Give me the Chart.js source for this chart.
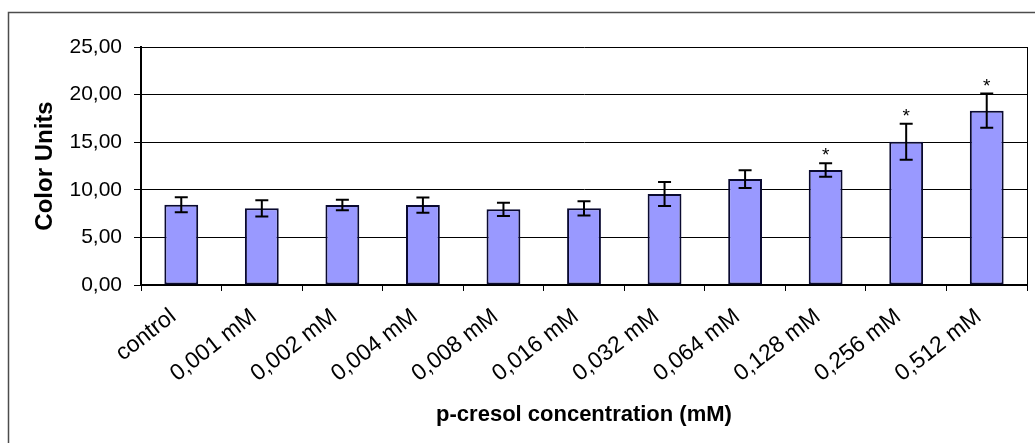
<!DOCTYPE html>
<html>
<head>
<meta charset="utf-8">
<script src="https://cdn.jsdelivr.net/npm/chart.js@4/dist/chart.umd.min.js"></script>
<style>
  html, body { margin: 0; padding: 0; background: #ffffff; overflow: hidden; }
  #wrap { position: relative; width: 1035px; height: 443px; }
</style>
</head>
<body>
<div id="wrap"><canvas id="chart"></canvas></div>
<script>
// p-cresol dose response: mean colour units with standard deviation
const categories = ['control', '0,001 mM', '0,002 mM', '0,004 mM', '0,008 mM', '0,016 mM',
                    '0,032 mM', '0,064 mM', '0,128 mM', '0,256 mM', '0,512 mM'];
const means  = [8.43, 8.05, 8.40, 8.40, 7.95, 8.05, 9.56, 11.13, 12.08, 15.05, 18.31];
const errors = [0.78, 0.85, 0.55, 0.80, 0.70, 0.75, 1.25, 0.93, 0.70, 1.90, 1.80];
const significance = ['', '', '', '', '', '', '', '', '*', '*', '*'];
const yTicks = [0, 5, 10, 15, 20, 25];

const FONT = "'Liberation Sans', Arial, sans-serif";

// outer chart frame and the plot-area right edge
const framePlugin = {
  id: 'frame',
  beforeDraw(chart) {
    const ctx = chart.ctx;
    ctx.save();
    ctx.strokeStyle = '#4d4d4d';
    ctx.lineWidth = 1.5;
    ctx.strokeRect(8.5, 12.5, 1200, 600);
    ctx.restore();
  },
  afterDraw(chart) {
    const { ctx, chartArea } = chart;
    ctx.save();
    ctx.strokeStyle = '#000';
    ctx.lineWidth = 1;
    ctx.beginPath();
    ctx.moveTo(chartArea.right + 0.5, chartArea.top);
    ctx.lineTo(chartArea.right + 0.5, chartArea.bottom);
    ctx.stroke();
    ctx.restore();
  }
};

// error bars and significance markers
const errorBarPlugin = {
  id: 'errorBars',
  afterDatasetsDraw(chart) {
    const ctx = chart.ctx;
    const meta = chart.getDatasetMeta(0);
    const y = chart.scales.y;
    const cap = 6.5;
    ctx.save();
    ctx.strokeStyle = '#000';
    ctx.lineWidth = 2;
    meta.data.forEach((bar, i) => {
      const x = bar.x;
      const yTop = y.getPixelForValue(means[i] + errors[i]);
      const yBot = y.getPixelForValue(means[i] - errors[i]);
      ctx.beginPath();
      ctx.moveTo(x, yTop); ctx.lineTo(x, yBot);
      ctx.moveTo(x - cap, yTop); ctx.lineTo(x + cap, yTop);
      ctx.moveTo(x - cap, yBot); ctx.lineTo(x + cap, yBot);
      ctx.stroke();
      if (significance[i]) {
        ctx.fillStyle = '#000';
        ctx.font = '19px ' + FONT;
        ctx.textAlign = 'center';
        ctx.textBaseline = 'alphabetic';
        ctx.fillText(significance[i], x, yTop - 2);
      }
    });
    ctx.restore();
  }
};

new Chart(document.getElementById('chart'), {
  type: 'bar',
  data: {
    labels: categories,
    datasets: [{
      data: means,
      backgroundColor: '#9999ff',
      borderColor: '#0a0a30',
      borderWidth: 2,
      borderSkipped: false,
      categoryPercentage: 1,
      barPercentage: 0.42
    }]
  },
  options: {
    responsive: true,
    maintainAspectRatio: false,
    animation: false,
    layout: { padding: { left: 0, top: 47, right: 8, bottom: 11 } },
    plugins: { legend: { display: false }, tooltip: { enabled: false } },
    scales: {
      x: {
        offset: true,
        grid: { offset: true, drawOnChartArea: false, drawTicks: true, tickLength: 6, color: '#000', lineWidth: 1 },
        border: { color: '#000', width: 2 },
        ticks: {
          color: '#000', font: { family: FONT, size: 23 },
          minRotation: 38, maxRotation: 38, autoSkip: false, padding: 12, labelOffset: -8
        },
        title: {
          display: true, text: 'p-cresol concentration (mM)', color: '#000',
          font: { family: FONT, size: 22, weight: 'bold' }, padding: { top: 4, bottom: 4 }
        },
        afterFit(scale) { scale.height = 147; }
      },
      y: {
        min: 0, max: 25,
        afterBuildTicks(scale) { scale.ticks = yTicks.map(v => ({ value: v })); },
        grid: { color: '#000', lineWidth: 1, drawTicks: true, tickLength: 7 },
        border: { color: '#000', width: 2 },
        ticks: {
          color: '#000', font: { family: FONT, size: 21 }, padding: 12,
          callback: v => v.toFixed(2).replace('.', ',')
        },
        title: {
          display: true, text: 'Color Units', color: '#000',
          font: { family: FONT, size: 24, weight: 'bold' }, padding: { top: 31, bottom: 0 }
        },
        afterFit(scale) { scale.width = 141; }
      }
    }
  },
  plugins: [framePlugin, errorBarPlugin]
});
</script>
</body>
</html>
